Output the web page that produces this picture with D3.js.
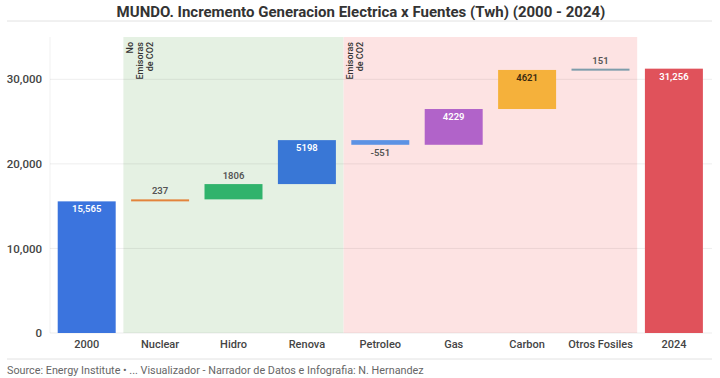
<!DOCTYPE html>
<html>
<head>
<meta charset="utf-8">
<script src="https://cdn.jsdelivr.net/npm/d3@7"></script>
<style>
  body { margin: 0; background: #fff; }
  svg { display: block; font-family: Roboto, "Noto Sans", sans-serif; }
</style>
</head>
<body>
<svg width="720" height="378"></svg>
<script>
// datos del grafico (Twh)
var categorias = ["2000", "Nuclear", "Hidro", "Renova", "Petroleo", "Gas", "Carbon", "Otros Fosiles", "2024"];
var valores = [15565, 237, 1806, 5198, -551, 4229, 4621, 151, 31256];
var esTotal = [true, false, false, false, false, false, false, false, true];
var colores = ["#3b74de", "#e3843c", "#30b36c", "#3977d6", "#5c92e4", "#b163c9", "#f5b13b", "#7e9dab", "#e0525b"];
var etiquetas = ["15,565", "237", "1806", "5198", "-551", "4229", "4621", "151", "31,256"];
var yTicks = [0, 10000, 20000, 30000];
var zonas = [
  {desde: "Nuclear", hasta: "Renova", color: "#e5f1e3", texto: ["No", "Emisoras", "de CO2"]},
  {desde: "Petroleo", hasta: "Otros Fosiles", color: "#fde3e3", texto: ["Emisoras", "de CO2"]}
];

var svg = d3.select("svg");
var margin = {top: 37, left: 50, right: 9.4, bottom: 45};
var W = 720, H = 378;

// armar cascada
var acum = 0;
var barras = categorias.map(function(c, i) {
  var b;
  if (esTotal[i]) { b = {cat: c, y0: 0, y1: valores[i]}; acum = valores[i]; }
  else { b = {cat: c, y0: acum, y1: acum + valores[i]}; acum += valores[i]; }
  b.color = colores[i];
  b.label = etiquetas[i];
  b.neg = valores[i] < 0;
  return b;
});

var x = d3.scaleBand()
  .domain(categorias)
  .range([margin.left, W - margin.right])
  .paddingInner(0.21)
  .paddingOuter(0.105);

var y = d3.scaleLinear()
  .domain([0, 35000])
  .range([H - margin.bottom, margin.top]);

// titulo
svg.append("text")
  .attr("x", 361).attr("y", 17)
  .attr("text-anchor", "middle")
  .attr("font-size", 15).attr("font-weight", 700)
  .attr("fill", "#333")
  .text("MUNDO. Incremento Generacion Electrica x Fuentes (Twh) (2000 - 2024)");

svg.append("line")
  .attr("x1", 7).attr("x2", 712).attr("y1", 21).attr("y2", 21)
  .attr("stroke", "#e2e2e2");

// zonas sombreadas
var half = x.step() * x.paddingInner() / 2;
zonas.forEach(function(z) {
  var x0 = x(z.desde) - half;
  var x1 = x(z.hasta) + x.bandwidth() + half;
  svg.append("rect")
    .attr("x", x0).attr("y", y(35000))
    .attr("width", x1 - x0).attr("height", y(0) - y(35000))
    .attr("fill", z.color);
  z.texto.forEach(function(t, k) {
    svg.append("text")
      .attr("transform", "translate(" + (x0 + 9.5 + k * 10) + "," + (y(35000) + 5) + ") rotate(-90)")
      .attr("text-anchor", "end")
      .attr("font-size", 9).attr("font-weight", 500)
      .attr("fill", "#333")
      .text(t);
  });
});

// grid y eje
svg.append("g")
  .selectAll("line")
  .data(yTicks)
  .enter().append("line")
  .attr("x1", margin.left).attr("x2", 712)
  .attr("y1", function(d) { return y(d); })
  .attr("y2", function(d) { return y(d); })
  .attr("stroke", "#000").attr("stroke-opacity", 0.07);

svg.append("line")
  .attr("x1", margin.left).attr("x2", margin.left)
  .attr("y1", y(35000)).attr("y2", y(0))
  .attr("stroke", "#000").attr("stroke-opacity", 0.06);

var ejeY = svg.append("g")
  .attr("transform", "translate(" + margin.left + ",0)")
  .call(d3.axisLeft(y).tickValues(yTicks).tickFormat(d3.format(",")).tickSize(0).tickPadding(8));
ejeY.select(".domain").remove();
ejeY.selectAll("text").attr("font-size", 11.5).attr("font-weight", 500).attr("fill", "#444")
  .attr("font-family", "Roboto, sans-serif");

var ejeX = svg.append("g")
  .attr("transform", "translate(0," + y(0) + ")")
  .call(d3.axisBottom(x).tickSize(0).tickPadding(7));
ejeX.select(".domain").remove();
ejeX.selectAll("text").attr("font-size", 11).attr("font-weight", 500).attr("fill", "#444")
  .attr("font-family", "Roboto, sans-serif");

// barras
svg.append("g")
  .selectAll("rect")
  .data(barras)
  .enter().append("rect")
  .attr("x", function(d) { return x(d.cat); })
  .attr("width", x.bandwidth())
  .attr("y", function(d) { return y(Math.max(d.y0, d.y1)); })
  .attr("height", function(d) { return Math.max(2, Math.abs(y(d.y0) - y(d.y1))); })
  .attr("fill", function(d) { return d.color; });

// etiquetas
svg.append("g")
  .selectAll("text")
  .data(barras)
  .enter().append("text")
  .attr("x", function(d) { return x(d.cat) + x.bandwidth() / 2; })
  .attr("y", function(d) {
    var top = y(Math.max(d.y0, d.y1));
    var h = Math.abs(y(d.y0) - y(d.y1));
    if (d.neg) return y(Math.min(d.y0, d.y1)) + 11;
    if (h > 30) return top + 11;
    return top - 5;
  })
  .attr("text-anchor", "middle")
  .attr("font-size", 9.5).attr("font-weight", 600)
  .attr("fill", function(d) {
    var h = Math.abs(y(d.y0) - y(d.y1));
    if (d.neg || h <= 30) return "#555";
    if (d.cat === "Carbon") return "#3a2a10";
    return "#fff";
  })
  .text(function(d) { return d.label; });

// pie
svg.append("line")
  .attr("x1", 7).attr("x2", 712).attr("y1", 359).attr("y2", 359)
  .attr("stroke", "#e2e2e2");

svg.append("text")
  .attr("x", 7).attr("y", 374)
  .attr("font-size", 10.8).attr("fill", "#666")
  .text("Source: Energy Institute \u2022 ... Visualizador - Narrador de Datos e Infografia: N. Hernandez");
</script>
</body>
</html>
